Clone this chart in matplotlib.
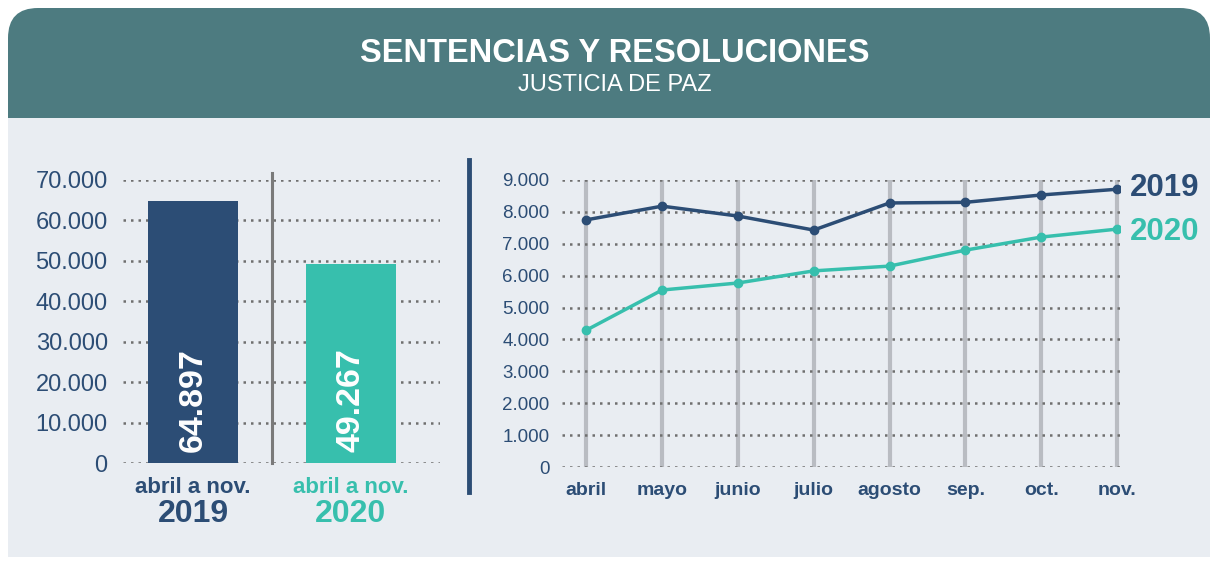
import matplotlib.pyplot as plt
from matplotlib.patches import FancyBboxPatch, Rectangle
from matplotlib.lines import Line2D
from matplotlib.transforms import IdentityTransform

plt.rcParams['font.family'] = ['Liberation Sans', 'DejaVu Sans']

# datos
anios = ["2019", "2020"]
totales = [64897, 49267]
meses = ["abril", "mayo", "junio", "julio", "agosto", "sep.", "oct.", "nov."]
mensual_2019 = [7750, 8180, 7870, 7430, 8280, 8300, 8530, 8710]
mensual_2020 = [4290, 5550, 5770, 6150, 6300, 6800, 7210, 7460]

azul = "#2c4d75"
verde = "#37bfad"
fondo = "#e9edf2"
cabecera = "#4d7b80"
gris_punto = "#6f6f6f"

fig = plt.figure(figsize=(12.1, 5.61), dpi=100, facecolor="white")
H = 561

# fondo y cabecera (en pixeles)
fig.patches.append(FancyBboxPatch((8 + 30, H - 150), 1142, 112,
                                  boxstyle="round,pad=30", transform=IdentityTransform(),
                                  facecolor=cabecera, edgecolor="none", zorder=-3))
fig.patches.append(Rectangle((8, H - 557), 1210, 557 - 118, transform=IdentityTransform(),
                             facecolor=fondo, edgecolor="none", zorder=-2))

fig.text(615 / 1210, 1 - 53 / H, "SENTENCIAS Y RESOLUCIONES", ha="center", va="center",
         color="white", fontsize=23.5, fontweight="bold")
fig.text(615 / 1210, 1 - 85 / H, "JUSTICIA DE PAZ", ha="center", va="center",
         color="white", fontsize=17)

# --- barras ---
ax1 = fig.add_axes([123 / 1210, 1 - 463 / H, 317 / 1210, 283 / H])
ax1.set_facecolor("none")
pos = [0, 1]
ax1.bar(pos, totales, width=0.57, color=[azul, verde], zorder=3)
ax1.set_ylim(0, 70000)
ax1.set_xlim(-0.445, 1.567)
ax1.set_yticks(range(0, 70001, 10000))
ax1.set_yticklabels(["0" if v == 0 else f"{v // 1000}.000" for v in range(0, 70001, 10000)])
ax1.tick_params(axis="y", length=0, pad=11, labelsize=17, labelcolor=azul)
ax1.set_xticks([])
ax1.grid(axis="y", color=gris_punto, linestyle=(0, (1, 2)), linewidth=1.8)
for s in ax1.spines.values():
    s.set_visible(False)
ax1.axvline(0.5, ymin=0, ymax=1.025, color="#7a7a7a", linewidth=2.2, clip_on=False, zorder=2)

colores = [azul, verde]
for x, v, a, c in zip(pos, totales, anios, colores):
    ax1.text(x, 15500, f"{v:,}".replace(",", "."), rotation=90, ha="center", va="center",
             color="white", fontsize=24.5, fontweight="bold", zorder=4)
    ax1.text(x, -0.088, "abril a nov.", transform=ax1.get_xaxis_transform(),
             ha="center", va="center", color=c, fontsize=16, fontweight="bold")
    ax1.text(x, -0.18, a, transform=ax1.get_xaxis_transform(),
             ha="center", va="center", color=c, fontsize=23, fontweight="bold")

# separador azul
fig.add_artist(Line2D([469 / 1210, 469 / 1210], [1 - 160 / H, 1 - 492 / H],
                      color=azul, linewidth=3.5, zorder=5))

# --- lineas ---
ax2 = fig.add_axes([562 / 1210, 1 - 467 / H, 558 / 1210, 287 / H])
ax2.set_facecolor("none")
xs = list(range(len(meses)))
ax2.plot(xs, mensual_2019, color=azul, linewidth=2.5, marker="o", markersize=6, zorder=4)
ax2.plot(xs, mensual_2020, color=verde, linewidth=2.5, marker="o", markersize=6, zorder=4)
ax2.set_ylim(0, 9000)
ax2.set_xlim(-0.32, 7.04)
ax2.set_yticks(range(0, 9001, 1000))
ax2.set_yticklabels(["0" if v == 0 else f"{v // 1000}.000" for v in range(0, 9001, 1000)])
ax2.set_xticks(xs)
ax2.set_xticklabels(meses, fontweight="bold")
ax2.tick_params(axis="y", length=0, pad=9, labelsize=13.5, labelcolor=azul)
ax2.tick_params(axis="x", length=0, pad=11, labelsize=14, labelcolor=azul)
ax2.grid(axis="y", color=gris_punto, linestyle=(0, (1, 2)), linewidth=1.8, zorder=1)
ax2.grid(axis="x", color="#b9bcc2", linestyle="-", linewidth=3, zorder=1)
ax2.set_axisbelow(True)
for s in ax2.spines.values():
    s.set_visible(False)

ax2.annotate("2019", (xs[-1], mensual_2019[-1]), xytext=(9, 1), textcoords="offset points",
             ha="left", va="center", color=azul, fontsize=22.5, fontweight="bold",
             annotation_clip=False)
ax2.annotate("2020", (xs[-1], mensual_2020[-1]), xytext=(9, -2), textcoords="offset points",
             ha="left", va="center", color=verde, fontsize=22.5, fontweight="bold",
             annotation_clip=False)

fig.savefig("out.png", dpi=100, facecolor="white")
